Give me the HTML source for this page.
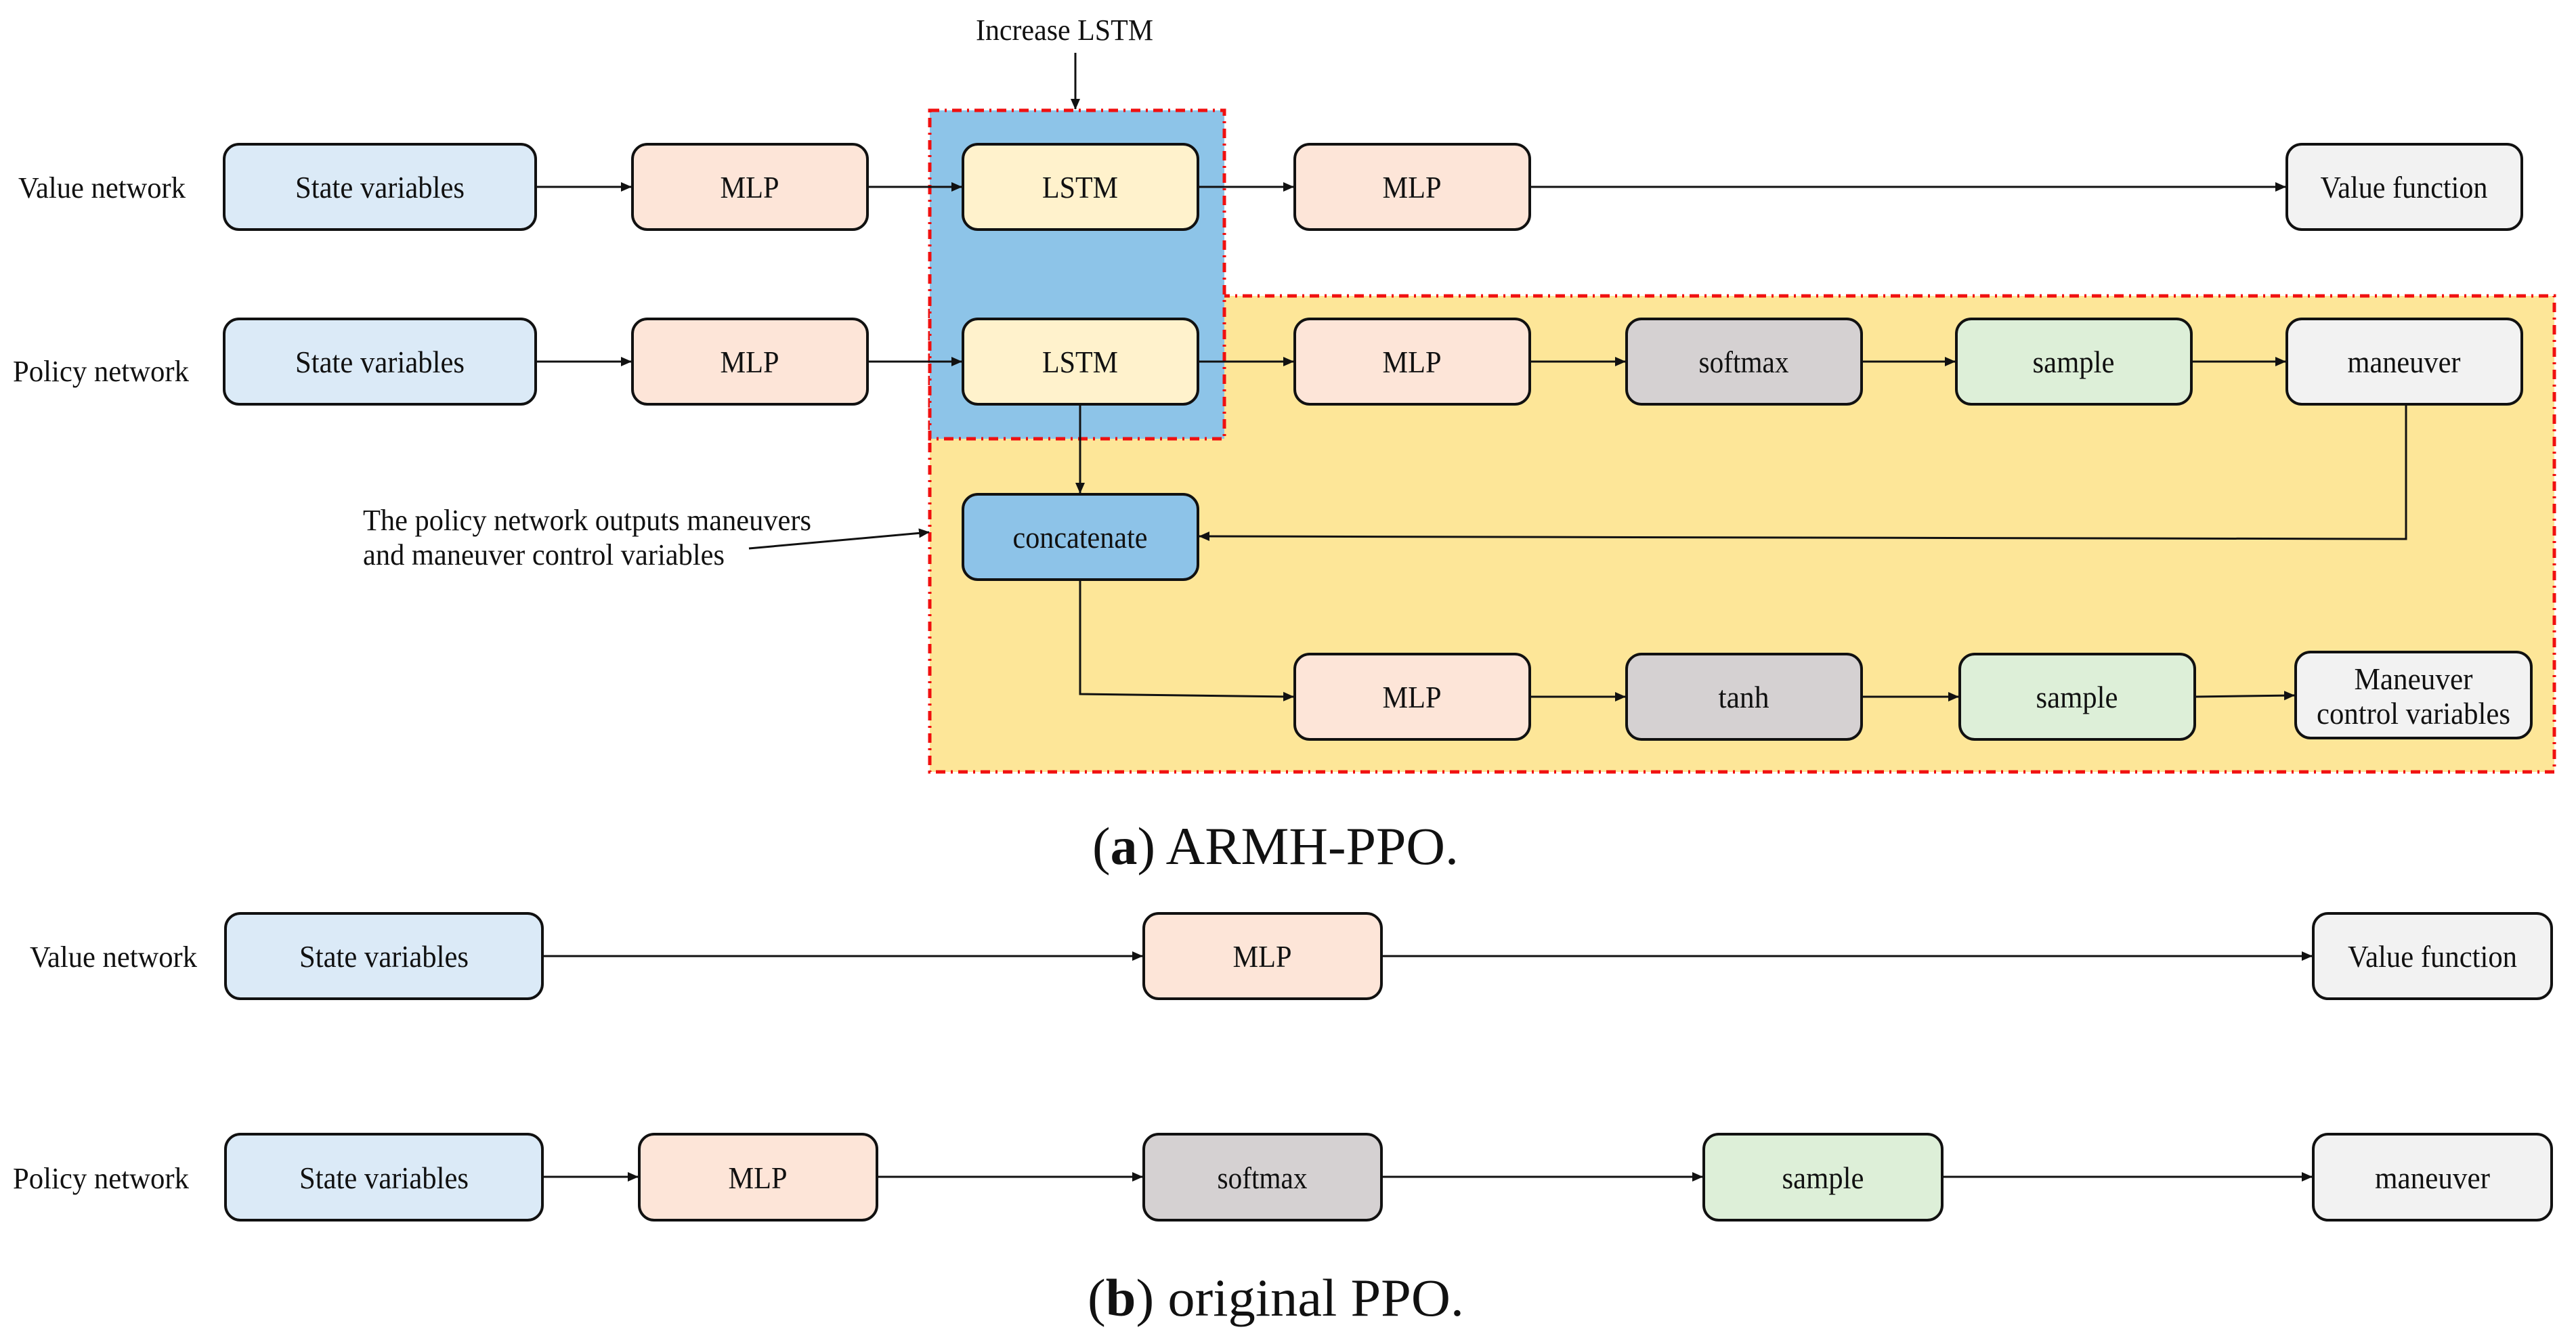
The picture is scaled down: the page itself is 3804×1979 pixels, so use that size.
<!DOCTYPE html>
<html><head><meta charset="utf-8"><style>
html,body{margin:0;padding:0;background:#fff;}
svg{display:block;}
svg text{font-family:"Liberation Serif","Times New Roman",serif;fill:#111;}
</style></head><body>
<svg width="3804" height="1979" viewBox="0 0 3804 1979" xmlns="http://www.w3.org/2000/svg" font-family="Liberation Serif, serif">
<defs>
<marker id="ar2" markerWidth="16" markerHeight="16" refX="15" refY="8" orient="auto" markerUnits="userSpaceOnUse" viewBox="0 0 16 16">
<path d="M0,1 L16,8 L0,15 z" fill="#111"/></marker>
</defs>
<rect x="1373" y="437" width="2399" height="703" fill="#fde698" stroke="#f01010" stroke-width="5" stroke-dasharray="14 8 3 8"/>
<rect x="1373" y="163" width="435" height="485" fill="#8dc4e8" stroke="#f01010" stroke-width="5" stroke-dasharray="14 8 3 8"/>

<g stroke="#111" stroke-width="3" fill="none">
<line x1="791" y1="276" x2="932" y2="276" marker-end="url(#ar2)"/>
<line x1="1281" y1="276" x2="1420" y2="276" marker-end="url(#ar2)"/>
<line x1="1769" y1="276" x2="1910" y2="276" marker-end="url(#ar2)"/>
<line x1="2259" y1="276" x2="3375" y2="276" marker-end="url(#ar2)"/>
<line x1="791" y1="534" x2="932" y2="534" marker-end="url(#ar2)"/>
<line x1="1281" y1="534" x2="1420" y2="534" marker-end="url(#ar2)"/>
<line x1="1769" y1="534" x2="1910" y2="534" marker-end="url(#ar2)"/>
<line x1="2259" y1="534" x2="2400" y2="534" marker-end="url(#ar2)"/>
<line x1="2749" y1="534" x2="2887" y2="534" marker-end="url(#ar2)"/>
<line x1="3236" y1="534" x2="3375" y2="534" marker-end="url(#ar2)"/>
<line x1="1595" y1="597" x2="1595" y2="728" marker-end="url(#ar2)"/>
<polyline points="3553,597 3553,796 1771,792" marker-end="url(#ar2)"/>
<polyline points="1595,856 1595,1025 1910,1029" marker-end="url(#ar2)"/>
<line x1="2259" y1="1029" x2="2400" y2="1029" marker-end="url(#ar2)"/>
<line x1="2749" y1="1029" x2="2892" y2="1029" marker-end="url(#ar2)"/>
<line x1="3241" y1="1029" x2="3388" y2="1027" marker-end="url(#ar2)"/>
<line x1="1588" y1="78" x2="1588" y2="161" marker-end="url(#ar2)"/>
<line x1="1106" y1="810" x2="1372" y2="786" marker-end="url(#ar2)"/>
<line x1="801" y1="1412" x2="1687" y2="1412" marker-end="url(#ar2)"/>
<line x1="2040" y1="1412" x2="3414" y2="1412" marker-end="url(#ar2)"/>
<line x1="801" y1="1738" x2="942" y2="1738" marker-end="url(#ar2)"/>
<line x1="1295" y1="1738" x2="1687" y2="1738" marker-end="url(#ar2)"/>
<line x1="2040" y1="1738" x2="2514" y2="1738" marker-end="url(#ar2)"/>
<line x1="2868" y1="1738" x2="3414" y2="1738" marker-end="url(#ar2)"/>
</g>

<g stroke="#111" stroke-width="4">
<rect x="331" y="213" width="460" height="126" rx="22" fill="#dbeaf7"/>
<rect x="934" y="213" width="347" height="126" rx="22" fill="#fde5d8"/>
<rect x="1422" y="213" width="347" height="126" rx="22" fill="#fff2cc"/>
<rect x="1912" y="213" width="347" height="126" rx="22" fill="#fde5d8"/>
<rect x="3377" y="213" width="347" height="126" rx="22" fill="#f2f2f2"/>
<rect x="331" y="471" width="460" height="126" rx="22" fill="#dbeaf7"/>
<rect x="934" y="471" width="347" height="126" rx="22" fill="#fde5d8"/>
<rect x="1422" y="471" width="347" height="126" rx="22" fill="#fff2cc"/>
<rect x="1912" y="471" width="347" height="126" rx="22" fill="#fde5d8"/>
<rect x="2402" y="471" width="347" height="126" rx="22" fill="#d5d1d2"/>
<rect x="2889" y="471" width="347" height="126" rx="22" fill="#ddefd8"/>
<rect x="3377" y="471" width="347" height="126" rx="22" fill="#f2f2f2"/>
<rect x="1422" y="730" width="347" height="126" rx="22" fill="#8dc3e8"/>
<rect x="1912" y="966" width="347" height="126" rx="22" fill="#fde5d8"/>
<rect x="2402" y="966" width="347" height="126" rx="22" fill="#d5d1d2"/>
<rect x="2894" y="966" width="347" height="126" rx="22" fill="#ddefd8"/>
<rect x="3390" y="963" width="348" height="127" rx="22" fill="#f2f2f2"/>
<rect x="333" y="1349" width="468" height="126" rx="22" fill="#dbeaf7"/>
<rect x="1689" y="1349" width="351" height="126" rx="22" fill="#fde5d8"/>
<rect x="3416" y="1349" width="352" height="126" rx="22" fill="#f2f2f2"/>
<rect x="333" y="1675" width="468" height="127" rx="22" fill="#dbeaf7"/>
<rect x="944" y="1675" width="351" height="127" rx="22" fill="#fde5d8"/>
<rect x="1689" y="1675" width="351" height="127" rx="22" fill="#d5d1d2"/>
<rect x="2516" y="1675" width="352" height="127" rx="22" fill="#ddefd8"/>
<rect x="3416" y="1675" width="352" height="127" rx="22" fill="#f2f2f2"/>
</g>

<g font-size="46" text-anchor="middle">
<text x="561" y="292" textLength="250" lengthAdjust="spacingAndGlyphs">State variables</text>
<text x="1107" y="292" textLength="87" lengthAdjust="spacingAndGlyphs">MLP</text>
<text x="1595" y="292" textLength="112" lengthAdjust="spacingAndGlyphs">LSTM</text>
<text x="2085" y="292" textLength="87" lengthAdjust="spacingAndGlyphs">MLP</text>
<text x="3550" y="292" textLength="247" lengthAdjust="spacingAndGlyphs">Value function</text>
<text x="561" y="550" textLength="250" lengthAdjust="spacingAndGlyphs">State variables</text>
<text x="1107" y="550" textLength="87" lengthAdjust="spacingAndGlyphs">MLP</text>
<text x="1595" y="550" textLength="112" lengthAdjust="spacingAndGlyphs">LSTM</text>
<text x="2085" y="550" textLength="87" lengthAdjust="spacingAndGlyphs">MLP</text>
<text x="2575" y="550" textLength="133" lengthAdjust="spacingAndGlyphs">softmax</text>
<text x="3062" y="550" textLength="121" lengthAdjust="spacingAndGlyphs">sample</text>
<text x="3550" y="550" textLength="167" lengthAdjust="spacingAndGlyphs">maneuver</text>
<text x="1595" y="809" textLength="199" lengthAdjust="spacingAndGlyphs">concatenate</text>
<text x="2085" y="1045" textLength="87" lengthAdjust="spacingAndGlyphs">MLP</text>
<text x="2575" y="1045" textLength="75" lengthAdjust="spacingAndGlyphs">tanh</text>
<text x="3067" y="1045" textLength="121" lengthAdjust="spacingAndGlyphs">sample</text>
<text x="3564" y="1018" textLength="175" lengthAdjust="spacingAndGlyphs">Maneuver</text>
<text x="3564" y="1069" textLength="286" lengthAdjust="spacingAndGlyphs">control variables</text>
<text x="567" y="1428" textLength="250" lengthAdjust="spacingAndGlyphs">State variables</text>
<text x="1864" y="1428" textLength="87" lengthAdjust="spacingAndGlyphs">MLP</text>
<text x="3592" y="1428" textLength="250" lengthAdjust="spacingAndGlyphs">Value function</text>
<text x="567" y="1755" textLength="250" lengthAdjust="spacingAndGlyphs">State variables</text>
<text x="1119" y="1755" textLength="87" lengthAdjust="spacingAndGlyphs">MLP</text>
<text x="1864" y="1755" textLength="133" lengthAdjust="spacingAndGlyphs">softmax</text>
<text x="2692" y="1755" textLength="121" lengthAdjust="spacingAndGlyphs">sample</text>
<text x="3592" y="1755" textLength="170" lengthAdjust="spacingAndGlyphs">maneuver</text>
</g>

<g font-size="44">
<text x="27" y="292" textLength="247" lengthAdjust="spacingAndGlyphs">Value network</text>
<text x="19" y="563" textLength="260" lengthAdjust="spacingAndGlyphs">Policy network</text>
<text x="44" y="1428" textLength="247" lengthAdjust="spacingAndGlyphs">Value network</text>
<text x="19" y="1755" textLength="260" lengthAdjust="spacingAndGlyphs">Policy network</text>
<text x="1441" y="59" textLength="262" lengthAdjust="spacingAndGlyphs">Increase LSTM</text>
<text x="536" y="783" textLength="662" lengthAdjust="spacingAndGlyphs">The policy network outputs maneuvers</text>
<text x="536" y="834" textLength="534" lengthAdjust="spacingAndGlyphs">and maneuver control variables</text>
</g>

<g font-size="78">
<text x="1613" y="1276" textLength="541" lengthAdjust="spacingAndGlyphs">(<tspan font-weight="bold">a</tspan>) ARMH-PPO.</text>
<text x="1606" y="1943" textLength="556" lengthAdjust="spacingAndGlyphs">(<tspan font-weight="bold">b</tspan>) original PPO.</text>
</g>
</svg>
</body></html>
